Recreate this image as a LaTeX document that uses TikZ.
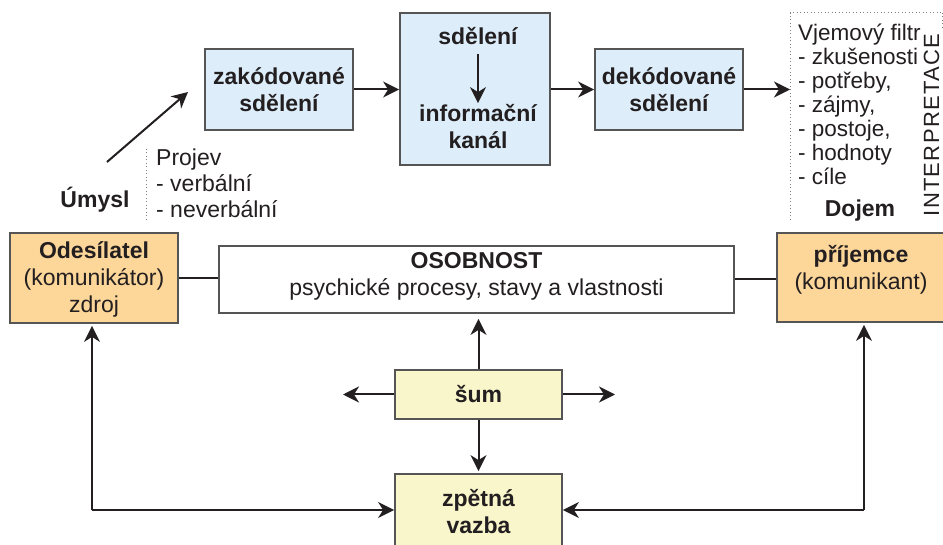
\documentclass[tikz,border=0pt]{standalone}
\usepackage{fontspec}
\setmainfont{Liberation Sans}
\usetikzlibrary{arrows.meta}
\definecolor{bluefill}{HTML}{DDEEFA}
\definecolor{orangefill}{HTML}{FDD699}
\definecolor{yellowfill}{HTML}{FAF6CB}
\definecolor{edge}{HTML}{555555}
\definecolor{ink}{HTML}{231F20}
\begin{document}
\begin{tikzpicture}[x=1pt,y=-1pt,
  box/.style={draw=edge,line width=1.8pt,inner sep=0pt,text=ink,align=center,
    font=\fontsize{23}{27}\selectfont\bfseries},
  bluebox/.style={box,fill=bluefill},
  orangebox/.style={box,fill=orangefill},
  yellowbox/.style={box,fill=yellowfill},
  whitebox/.style={box,fill=white},
  arr/.style={-{Stealth[length=16pt,width=16pt,inset=5pt]},line width=2pt,draw=ink},
  plain/.style={draw=ink,line width=2pt},
  txt/.style={inner sep=0pt,text=ink,align=center,font=\fontsize{23}{27}\selectfont},
  btxt/.style={inner sep=0pt,text=ink,align=center,font=\fontsize{23}{27}\selectfont\bfseries},
  listtxt/.style={inner sep=0pt,text=ink,align=left,font=\fontsize{22.5}{24}\selectfont},
  dots/.style={draw=gray,line width=1pt,dash pattern=on 1pt off 2.5pt},
]
\clip (0,0) rectangle (943,545);
\fill[white] (0,0) rectangle (943,545);

% top row
\node[bluebox,minimum width=148pt,minimum height=81pt] (zak) at (279,89.5) {zakódované\\sdělení};
\node[bluebox,minimum width=150pt,minimum height=152pt] (kanal) at (475,89) {};
\node[btxt] (sdel) at (478,36) {sdělení};
\node[btxt] (inf) at (478,126.5) {informační\\kanál};
\node[bluebox,minimum width=148pt,minimum height=81pt] (dek) at (669,89.5) {dekódované\\sdělení};

\draw[arr] ([yshift=-9pt]sdel.south) -- ([yshift=1pt]inf.north);
\draw[arr] (zak.east) -- (zak.east -| kanal.west);
\draw[arr] (dek.west -| kanal.east) -- (dek.west);

% perception filter
\coordinate (fin) at (790,89.5);
\coordinate (ftl) at (790,13);
\coordinate (fbl2) at (790,220);
\coordinate (ftr) at (943,13);
\coordinate (frt) at (942,13);
\coordinate (frb) at (942,30);
\draw[dots] (fbl2) -- (ftl) -- (ftr);
\draw[dots] (frt) -- (frb);
\draw[arr] (dek.east) -- (fin);
\node[listtxt,anchor=north west] (filtr) at (798,24) {Vjemový filtr\\- zkušenosti\\- potřeby,\\- zájmy,\\- postoje,\\- hodnoty\\- cíle};
\node[btxt] (dojem) at (860,211) {Dojem};
\node[txt,rotate=90,font=\fontsize{22}{26}\selectfont\addfontfeature{LetterSpace=6}] (interp) at (931.5,125) {INTERPRETACE};

% intent
\coordinate (u1) at (107,162);
\coordinate (u2) at (188,92);
\draw[arr] (u1) -- (u2);
\node[btxt] (umysl) at (95,200) {Úmysl};
\coordinate (pt) at (146,149);
\coordinate (pb) at (146,220);
\draw[dots] (pt) -- (pb);
\node[listtxt,anchor=north west,font=\fontsize{23}{26}\selectfont] (projev) at (156,149) {Projev\\- verbální\\- neverbální};

% middle row
\node[orangebox,minimum width=168pt,minimum height=90pt] (odes) at (94,278) {};
\node[txt] (odestxt) at (94,279.5) {\textbf{Odesílatel}\\(komunikátor)\\zdroj};
\node[whitebox,minimum width=515pt,minimum height=67pt] (osob) at (476.5,279.5) {};
\node[txt] (osobtxt) at (476.5,276) {\textbf{OSOBNOST}\\psychické procesy, stavy a vlastnosti};
\node[orangebox,minimum width=170pt,minimum height=89pt] (prij) at (862,277.5) {};
\node[txt] (prijtxt) at (861,270) {\textbf{příjemce}\\(komunikant)};
\draw[plain] (odes.east) -- (odes.east -| osob.west);
\draw[plain] (osob.east) -- (osob.east -| prij.west);

% noise
\node[yellowbox,minimum width=167pt,minimum height=49pt] (sum) at (478.5,394.5) {šum};
\node[yellowbox,minimum width=167pt,minimum height=90pt] (zpet) at (478.5,519) {};
\node[btxt] (zpettxt) at (478.5,511.5) {zpětná\\vazba};
\coordinate (sl) at (343,394.5);
\coordinate (sr) at (615,394.5);
\draw[arr] (sum.north) -- ([yshift=-5pt]sum.north |- osob.south);
\draw[arr] (sum.west) -- (sl);
\draw[arr] (sum.east) -- (sr);
\draw[arr] (sum.south) -- ([yshift=2pt]zpet.north);

% feedback
\coordinate (fbl) at (92,510);
\coordinate (fbr) at (864,510);
\draw[arr] (fbl) -- (fbl -| zpet.west);
\draw[arr] (fbl) -- ([yshift=-2pt]fbl |- odes.south);
\draw[arr] (fbr) -- (fbr -| zpet.east);
\draw[arr] (fbr) -- ([yshift=-2pt]fbr |- prij.south);
\end{tikzpicture}
\end{document}
